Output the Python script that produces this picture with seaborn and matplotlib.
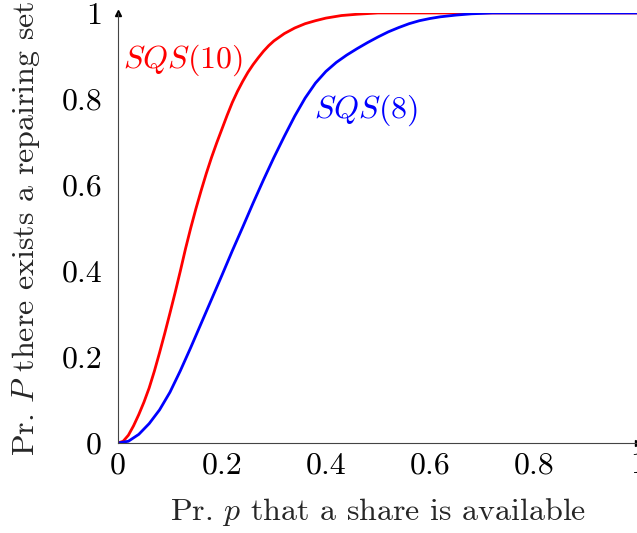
import pandas as pd
import matplotlib.pyplot as plt
import seaborn as sns

# values
p_sqs10 = [0, 0.01, 0.02, 0.03, 0.04, 0.05, 0.06, 0.07, 0.08, 0.09, 0.1, 0.11,
           0.12, 0.13, 0.14, 0.15, 0.16, 0.17, 0.18, 0.19, 0.2, 0.21, 0.22, 0.23,
           0.24, 0.25, 0.26, 0.27, 0.28, 0.29, 0.3, 0.32, 0.34, 0.36, 0.38,
           0.4, 0.43, 0.46, 0.5, 1.0]
P_sqs10 = [0, 0.004, 0.018, 0.04, 0.066, 0.095, 0.128, 0.167, 0.21, 0.255, 0.302,
           0.35, 0.4, 0.452, 0.5, 0.545, 0.587, 0.627, 0.664, 0.698, 0.73, 0.762,
           0.792, 0.818, 0.841, 0.862, 0.88, 0.896, 0.911, 0.924, 0.935, 0.952,
           0.965, 0.975, 0.982, 0.988, 0.994, 0.997, 1.0, 1.0]

p_sqs8 = [0, 0.02, 0.04, 0.06, 0.08, 0.1, 0.12, 0.14, 0.16, 0.18, 0.2, 0.22,
          0.24, 0.26, 0.28, 0.3, 0.32, 0.34, 0.36, 0.38, 0.4, 0.42, 0.44, 0.46,
          0.48, 0.5, 0.52, 0.54, 0.56, 0.58, 0.6, 0.62, 0.65, 0.68, 0.72, 1.0]
P_sqs8 = [0, 0.004, 0.02, 0.045, 0.077, 0.118, 0.168, 0.222, 0.278, 0.334, 0.39,
          0.447, 0.502, 0.558, 0.612, 0.664, 0.713, 0.76, 0.802, 0.837, 0.864,
          0.885, 0.902, 0.917, 0.931, 0.944, 0.956, 0.966, 0.975, 0.982, 0.987,
          0.991, 0.995, 0.998, 1.0, 1.0]

ticks = [0, 0.2, 0.4, 0.6, 0.8, 1]
tick_labels = ['0', '0.2', '0.4', '0.6', '0.8', '1']

df = pd.concat([
    pd.DataFrame({'p': p_sqs10, 'P': P_sqs10, 'design': 'SQS(10)'}),
    pd.DataFrame({'p': p_sqs8, 'P': P_sqs8, 'design': 'SQS(8)'}),
])

sns.set_style('white')
plt.rcParams['font.family'] = 'serif'
plt.rcParams['font.serif'] = ['cmr10', 'DejaVu Serif']
plt.rcParams['mathtext.fontset'] = 'cm'
plt.rcParams['axes.unicode_minus'] = False

fig = plt.figure(figsize=(6.37, 5.33), dpi=100)
ax = fig.add_axes([0.1852, 0.1689, 0.816, 0.8068])

sns.lineplot(data=df, x='p', y='P', hue='design',
             palette={'SQS(10)': '#ff0000', 'SQS(8)': '#0000ff'},
             linewidth=2.0, legend=False, ax=ax)

ax.set_xlim(0, 1)
ax.set_ylim(0, 1)
ax.set_xticks(ticks)
ax.set_xticklabels(tick_labels)
ax.set_yticks(ticks)
ax.set_yticklabels(tick_labels)
ax.tick_params(direction='inout', length=7, width=0.6, colors='#555555',
               labelcolor='black', labelsize=23)
ax.tick_params(axis='y', pad=8)
ax.tick_params(axis='x', pad=3)

for s in ['top', 'right']:
    ax.spines[s].set_visible(False)
for s in ['left', 'bottom']:
    ax.spines[s].set_color('#444444')
    ax.spines[s].set_linewidth(0.8)

# arrow heads on the axis lines
ax.plot(1, 0, '>', color='black', markersize=5, transform=ax.get_yaxis_transform(), clip_on=False)
ax.plot(0, 1, '^', color='black', markersize=5, transform=ax.get_xaxis_transform(), clip_on=False)

ax.text(0.01, 0.89, '$SQS(10)$', color='#ff0000', fontsize=23, ha='left', va='center')
ax.text(0.377, 0.774, '$SQS(8)$', color='#0000ff', fontsize=23, ha='left', va='center')

ax.set_xlabel('Pr. $p$ that a share is available', fontsize=23, labelpad=12)
ax.set_ylabel('Pr. $P$ there exists a repairing set', fontsize=23, labelpad=14)

fig.savefig('out.png', dpi=100)
